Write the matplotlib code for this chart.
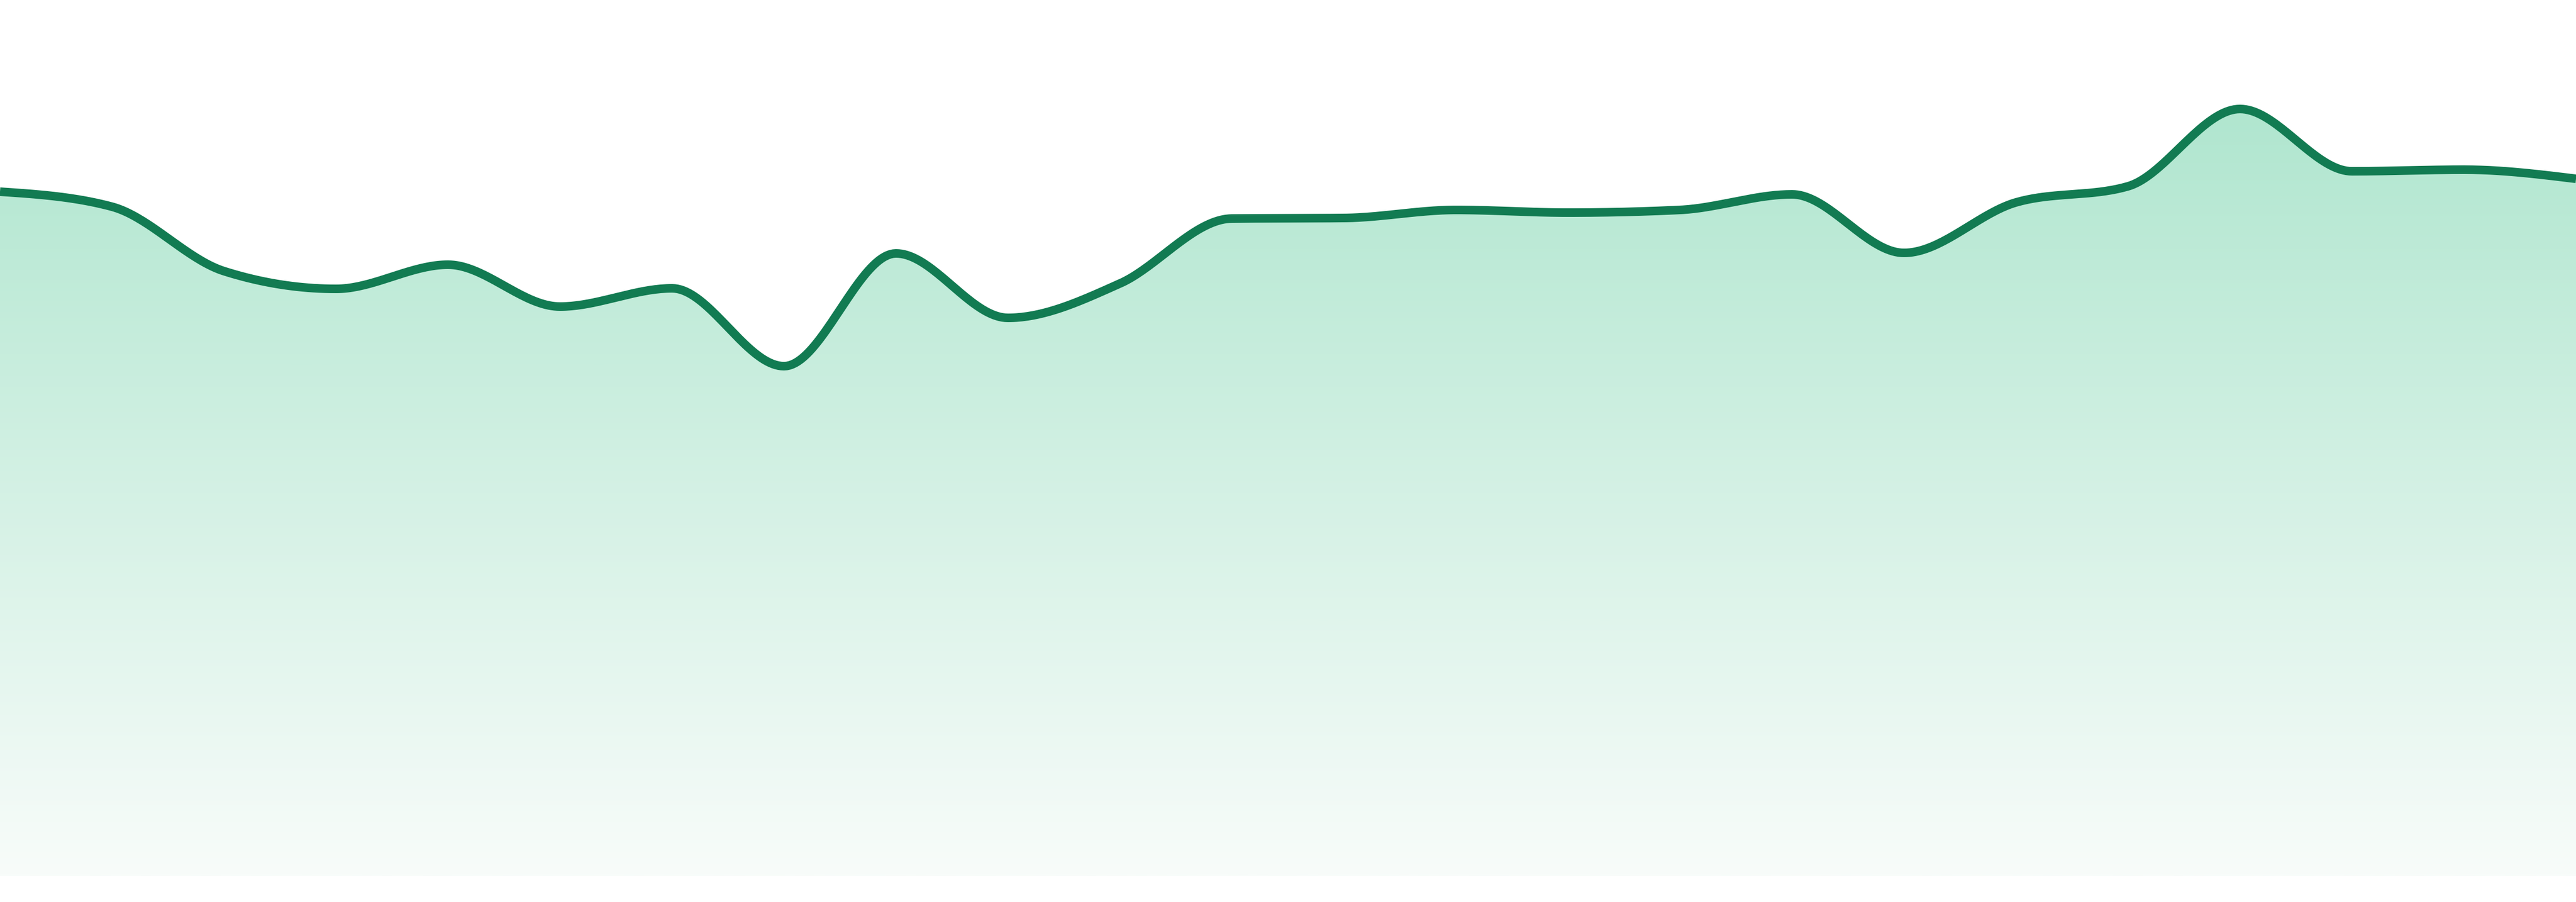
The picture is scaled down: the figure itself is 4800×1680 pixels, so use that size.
import numpy as np
import matplotlib
matplotlib.use("Agg")
import matplotlib.pyplot as plt
from matplotlib.colors import LinearSegmentedColormap

# values (24 evenly spaced points)
values = [127.5, 124.7, 112.7, 109.4, 113.9, 106.1, 109.5, 95.0,
          116.0, 104.0, 110.4, 122.5, 122.6, 124.1, 123.6, 124.1,
          127.0, 116.1, 125.5, 128.5, 142.9, 131.3, 131.6, 129.9]
y_max = 163.2

line_color = "#127b52"
fill_top = "#b0e6cf"
fill_bottom = "#f8fcfa"


def monotone_curve(x, y, n=40):
    # cubic hermite with monotone (d3 curveMonotoneX style) tangents
    x = np.asarray(x, float)
    y = np.asarray(y, float)
    h = np.diff(x)
    s = np.diff(y) / h
    t = np.zeros_like(y)
    for i in range(1, len(y) - 1):
        h0, h1 = h[i - 1], h[i]
        s0, s1 = s[i - 1], s[i]
        p = (s0 * h1 + s1 * h0) / (h0 + h1)
        t[i] = (np.sign(s0) + np.sign(s1)) * min(abs(s0), abs(s1), 0.5 * abs(p))
    t[0] = (3 * s[0] - t[1]) / 2
    t[-1] = (3 * s[-1] - t[-2]) / 2

    xs, ys = [], []
    for i in range(len(y) - 1):
        u = np.linspace(0, 1, n, endpoint=(i == len(y) - 2))
        h00 = 2 * u**3 - 3 * u**2 + 1
        h10 = u**3 - 2 * u**2 + u
        h01 = -2 * u**3 + 3 * u**2
        h11 = u**3 - u**2
        xs.append(x[i] + u * h[i])
        ys.append(h00 * y[i] + h10 * h[i] * t[i] + h01 * y[i + 1] + h11 * h[i] * t[i + 1])
    return np.concatenate(xs), np.concatenate(ys)


idx = np.arange(len(values))
cx, cy = monotone_curve(idx, values)

fig = plt.figure(figsize=(16, 5.6), dpi=300)
ax = fig.add_axes([0, 48 / 1680, 1, 1 - 48 / 1680])
ax.axis("off")

poly = ax.fill_between(cx, cy, 0, facecolor="none", edgecolor="none")
cmap = LinearSegmentedColormap.from_list("fade", [fill_bottom, fill_top])
grad = np.linspace(0, 1, 512).reshape(-1, 1)
img = ax.imshow(grad, cmap=cmap, origin="lower", aspect="auto",
                extent=[0, len(values) - 1, 0, max(values)], zorder=1)
img.set_clip_path(poly.get_paths()[0], transform=ax.transData)

ax.plot(cx, cy, color=line_color, linewidth=3.84, solid_capstyle="butt", zorder=3)

# imshow resets the limits, so set them last
ax.set_xlim(0, len(values) - 1)
ax.set_ylim(0, y_max)

fig.savefig("out.png", dpi=300)
